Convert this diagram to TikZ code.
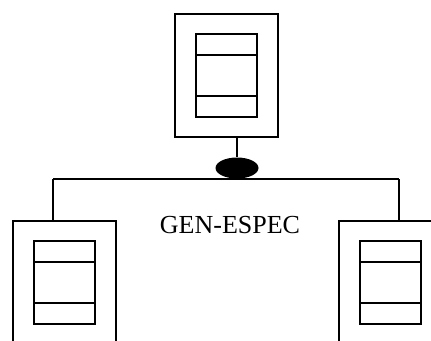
\documentclass[tikz,border=0pt]{standalone}
\usepackage{fontspec}
\setmainfont{Liberation Serif}
\usetikzlibrary{shapes.geometric}
\begin{document}
\begin{tikzpicture}[x=1pt,y=-1pt,line width=1.2pt]
    \tikzstyle{every node}+=[inner sep=0pt]
    \tikzstyle{entbox}=[draw, minimum width=103pt, minimum height=123pt]
    \tikzstyle{tablebox}=[draw, minimum width=61pt, minimum height=83pt,
        path picture={
            \draw ([yshift=-21pt]path picture bounding box.north west) -- ([yshift=-21pt]path picture bounding box.north east);
            \draw ([yshift=21pt]path picture bounding box.south west) -- ([yshift=21pt]path picture bounding box.south east);
        }]
    \useasboundingbox (0,0) rectangle (431,340);
    \path[clip] (0,0) rectangle (431,340);
    % general entity
    \node [entbox] (genbox) at (226.5,75.5) {};
    \node [tablebox] (gentab) at (genbox.center) {};
    % specialised entities
    \node [entbox] (leftbox) at (64.5,282.5) {};
    \node [tablebox] (lefttab) at (leftbox.center) {};
    \node [entbox] (rightbox) at (390.5,282.5) {};
    \node [tablebox] (righttab) at (rightbox.center) {};
    % hierarchy connector
    \node [ellipse, fill, minimum width=43pt, minimum height=21pt] (hub) at (237,168) {};
    \coordinate (barl) at (53,179);
    \coordinate (barr) at (399,179);
    \draw (hub.north) -- (hub.north |- genbox.south);
    \draw (barl) -- (barr);
    \draw (barl) -- (barl |- leftbox.north);
    \draw (barr) -- (barr |- rightbox.north);
    \node [anchor=base, font=\fontsize{26}{30}\selectfont] (genlabel) at (230,233) {GEN-ESPEC};
\end{tikzpicture}
\end{document}
